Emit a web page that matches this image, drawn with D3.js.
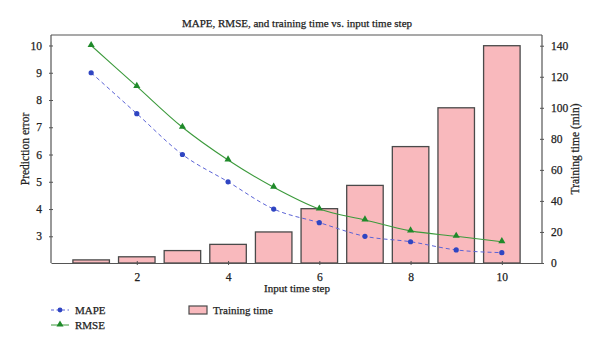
<!DOCTYPE html>
<html><head><meta charset="utf-8">
<script src="https://cdn.jsdelivr.net/npm/d3@7"></script>
<style>body{margin:0;background:#fff}svg{display:block}text{font-family:"Liberation Serif","DejaVu Serif",serif;fill:#222;stroke:#222;stroke-width:0.25px}</style>
</head><body><svg id="c" width="600" height="349"></svg>
<script>
const steps = [1,2,3,4,5,6,7,8,9,10];
const mape = [9.0,7.5,6.0,5.0,4.0,3.5,3.0,2.8,2.5,2.4];
const rmse = [10.0,8.5,7.0,5.8,4.8,4.0,3.6,3.2,3.0,2.8];
const trainTime = [2,4,8,12,20,35,50,75,100,140];
const xTicks = [2,4,6,8,10];
const leftTicks = [3,4,5,6,7,8,9,10];
const rightTicks = [0,20,40,60,80,100,120,140];

const svg = d3.select("#c");
const L=51,R=542,T=35,B=263;
const FS=11;
const x = d3.scaleLinear().domain([0.12,10.88]).range([L,R]);
const yL = d3.scaleLinear().domain([2.02,10.385]).range([B,T]);
const yR = d3.scaleLinear().domain([0,146.9]).range([B,T]);
const axisColor="#555";

// bars
const bw = x(1.8)-x(1);
svg.append("g").selectAll("rect").data(steps).join("rect")
  .attr("x",d=>x(d)-bw/2).attr("width",bw)
  .attr("y",(d,i)=>yR(trainTime[i])).attr("height",(d,i)=>B-yR(trainTime[i]))
  .attr("fill","#f9b9bd").attr("stroke","#4a4a4a").attr("stroke-width",1.3);

// frame top
svg.append("line").attr("x1",L).attr("x2",R).attr("y1",T).attr("y2",T).attr("stroke",axisColor).attr("stroke-width",1.2);

function styleAxis(g){g.selectAll("path").attr("stroke",axisColor).attr("stroke-width",1.2);
  g.selectAll("line").attr("stroke",axisColor);
  g.selectAll("text").attr("font-family","Liberation Serif, serif").attr("font-size",11.5).attr("fill","#222");}

const gx = svg.append("g").attr("transform",`translate(0,${B})`)
  .call(d3.axisBottom(x).tickValues(xTicks).tickFormat(d3.format("d")).tickSizeInner(2).tickSizeOuter(0).tickPadding(8));
styleAxis(gx);
gx.selectAll(".tick line").attr("y1",-2);

const gl = svg.append("g").attr("transform",`translate(${L},0)`)
  .call(d3.axisLeft(yL).tickValues(leftTicks).tickFormat(d3.format("d")).tickSizeInner(2).tickSizeOuter(0).tickPadding(7));
styleAxis(gl);
gl.selectAll(".tick line").attr("x1",2);
gl.select("path").attr("d",`M0,${B}V${T}`);

const gr = svg.append("g").attr("transform",`translate(${R},0)`)
  .call(d3.axisRight(yR).tickValues(rightTicks).tickFormat(d3.format("d")).tickSizeInner(2).tickSizeOuter(0).tickPadding(7));
styleAxis(gr);
gr.selectAll(".tick line").attr("x1",-2);
gr.select("path").attr("d",`M0,${B}V${T}`);

// lines
const lineL = d3.line().x((d,i)=>x(steps[i])).y(d=>yL(d)).curve(d3.curveMonotoneX);
svg.append("path").attr("d",lineL(mape)).attr("fill","none").attr("stroke","#5b63d6").attr("stroke-width",1).attr("stroke-dasharray","4,3");
svg.append("path").attr("d",lineL(rmse)).attr("fill","none").attr("stroke","#3c9a3c").attr("stroke-width",1.1);
svg.append("g").selectAll("circle").data(mape).join("circle")
  .attr("cx",(d,i)=>x(steps[i])).attr("cy",d=>yL(d)).attr("r",2.6).attr("fill","#2f45c2");
const tri = d3.symbol().type(d3.symbolTriangle).size(22);
svg.append("g").selectAll("path").data(rmse).join("path")
  .attr("d",tri).attr("transform",(d,i)=>`translate(${x(steps[i])},${yL(d)-0.5})`).attr("fill","#1f8a2a");

// titles
svg.append("text").attr("x",297).attr("y",27).attr("text-anchor","middle").attr("font-size",FS).text("MAPE, RMSE, and training time vs. input time step");
svg.append("text").attr("x",297).attr("y",292).attr("text-anchor","middle").attr("font-size",FS).text("Input time step");
svg.append("text").attr("transform",`translate(29,${(T+B)/2}) rotate(-90)`).attr("text-anchor","middle").attr("font-size",FS+0.5).text("Prediction error");
svg.append("text").attr("transform",`translate(579,${(T+B)/2}) rotate(-90)`).attr("text-anchor","middle").attr("font-size",FS+0.5).text("Training time (min)");

// legend
const lg = svg.append("g");
lg.append("line").attr("x1",51).attr("x2",69).attr("y1",310).attr("y2",310).attr("stroke","#5b63d6").attr("stroke-dasharray","3,2.5");
lg.append("circle").attr("cx",60).attr("cy",310).attr("r",2.4).attr("fill","#2f45c2");
lg.append("text").attr("x",75).attr("y",313.5).attr("font-size",FS).text("MAPE");
lg.append("line").attr("x1",51).attr("x2",69).attr("y1",325).attr("y2",325).attr("stroke","#3c9a3c");
lg.append("path").attr("d",tri).attr("transform","translate(60,324.5)").attr("fill","#1f8a2a");
lg.append("text").attr("x",75).attr("y",328.5).attr("font-size",FS).text("RMSE");
lg.append("rect").attr("x",189).attr("y",306).attr("width",18).attr("height",8).attr("fill","#f9b9bd").attr("stroke","#4a4a4a").attr("stroke-width",1.2);
lg.append("text").attr("x",213).attr("y",313.5).attr("font-size",FS).text("Training time");
</script></body></html>
